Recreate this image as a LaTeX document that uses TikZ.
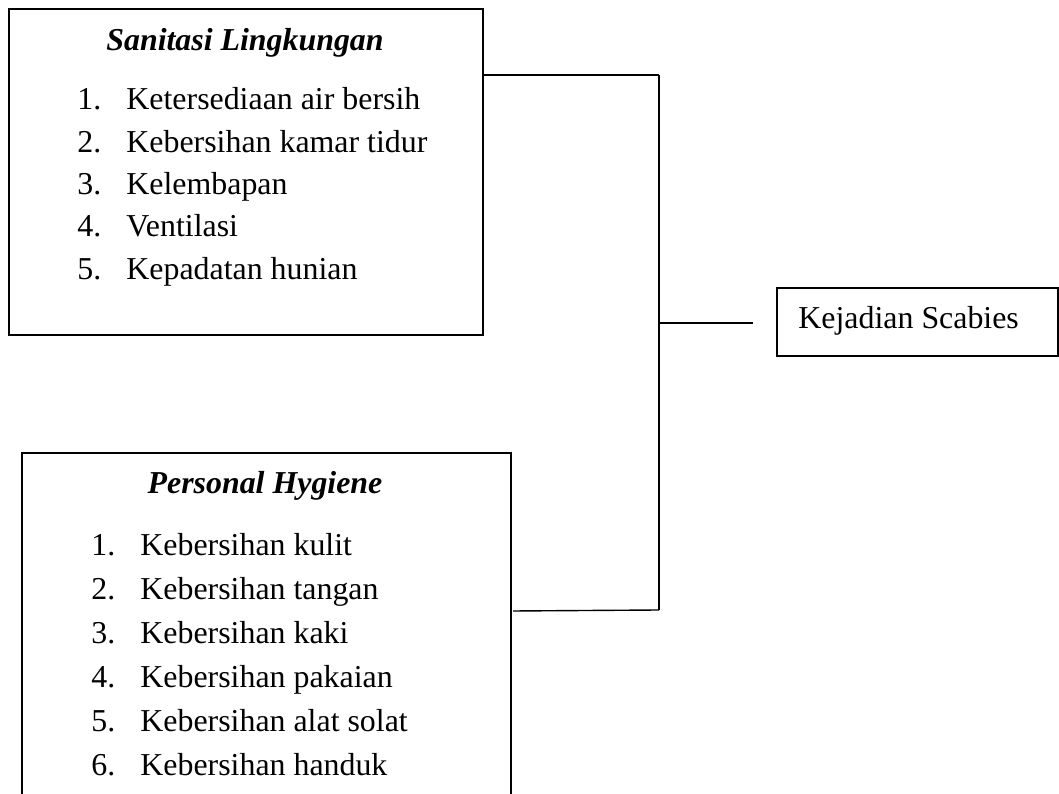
\documentclass[tikz,border=0pt]{standalone}
\usepackage{fontspec}
\setmainfont{Liberation Serif}
\usepackage{tikz}

\tikzset{
  box/.style={draw, line width=0.6pt, inner sep=0pt},
  ttl/.style={font=\fontsize{13.7}{16}\selectfont\bfseries\itshape, anchor=base},
  itm/.style={font=\fontsize{13.7}{16}\selectfont, anchor=base west, inner sep=0pt},
  link/.style={line width=0.6pt}
}

\begin{document}
\begin{tikzpicture}[x=0.0151cm, y=-0.0151cm]
  \clip (0,0) rectangle (1059,794);
  \useasboundingbox (0,0) rectangle (1059,794);

  % boxes
  \node[box, minimum width=203.6pt, minimum height=140.0pt] (san) at (246,172) {};
  \node[box, minimum width=210.1pt, minimum height=159pt] (hyg) at (266.5,638) {};
  \node[box, minimum width=120.7pt, minimum height=29.2pt] (kej) at (917.5,322) {};

  % titles
  \node[ttl] (santtl) at (245,51) {Sanitasi Lingkungan};
  \node[ttl] (hygttl) at (265,494) {Personal Hygiene};
  \node[itm] (kejtxt) at (798,329) {Kejadian Scabies};

  % lists
  \foreach \i/\t in {1/Ketersediaan air bersih, 2/Kebersihan kamar tidur,
                     3/Kelembapan, 4/Ventilasi, 5/Kepadatan hunian} {
    \node[itm] (sn\i) at (77,110+42.3*\i-42.3) {\i.};
    \node[itm] (st\i) at (126,110+42.3*\i-42.3) {\t};
  }
  \foreach \i/\t in {1/Kebersihan kulit, 2/Kebersihan tangan, 3/Kebersihan kaki,
                     4/Kebersihan pakaian, 5/Kebersihan alat solat,
                     6/Kebersihan handuk} {
    \node[itm] (hn\i) at (91,556+44*\i-44) {\i.};
    \node[itm] (ht\i) at (140,556+44*\i-44) {\t};
  }

  % connectors
  \coordinate (jt) at (659,75);
  \coordinate (jm) at (659,323);
  \coordinate (jb) at (659,610);
  \coordinate (km) at (753,323);
  \coordinate (hb) at (513,611);
  \draw[link] (san.east |- jt) -- (jt);
  \draw[link] (jt) -- (jb);
  \draw[link] (jm) -- (km);
  \draw[link] (hb) -- (jb);
\end{tikzpicture}
\end{document}
